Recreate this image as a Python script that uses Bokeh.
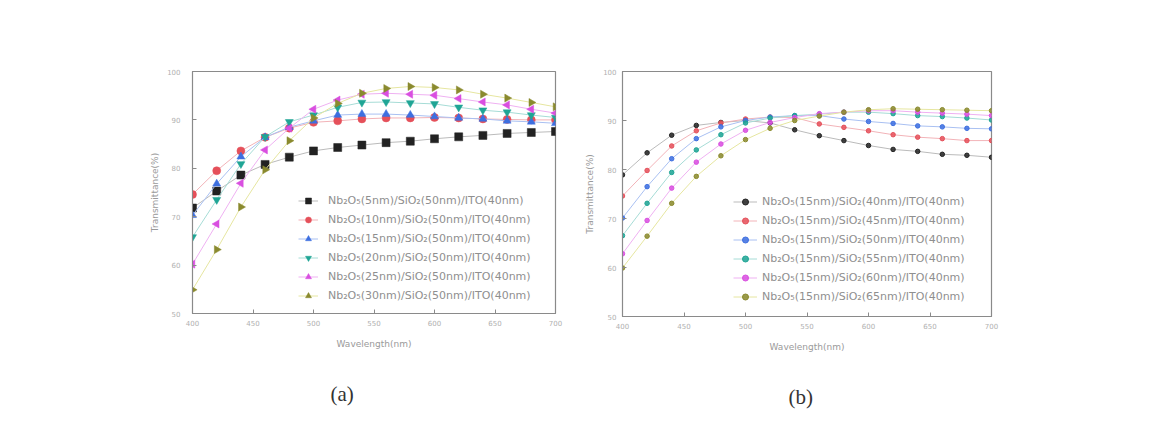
import math
from bokeh.plotting import figure
from bokeh.layouts import row
from bokeh.models import Legend, LegendItem, Title
from bokeh.embed import file_html
from bokeh.resources import INLINE

wavelength = [400, 420, 440, 460, 480, 500, 520, 540, 560, 580, 600, 620, 640, 660, 680, 700]

# panel (a): Nb2O5 thickness varied
a_labels = ["Nb\u2082O\u2085(5nm)/SiO\u2082(50nm)/ITO(40nm)",
            "Nb\u2082O\u2085(10nm)/SiO\u2082(50nm)/ITO(40nm)",
            "Nb\u2082O\u2085(15nm)/SiO\u2082(50nm)/ITO(40nm)",
            "Nb\u2082O\u2085(20nm)/SiO\u2082(50nm)/ITO(40nm)",
            "Nb\u2082O\u2085(25nm)/SiO\u2082(50nm)/ITO(40nm)",
            "Nb\u2082O\u2085(30nm)/SiO\u2082(50nm)/ITO(40nm)"]
a_5 = [71.8, 75.3, 78.6, 80.8, 82.3, 83.6, 84.3, 84.8, 85.3, 85.6, 86.1, 86.5, 86.8, 87.2, 87.4, 87.6]
a_10 = [74.6, 79.5, 83.6, 86.4, 88.3, 89.5, 89.8, 90.2, 90.4, 90.4, 90.5, 90.4, 90.2, 90.1, 90.0, 90.0]
a_15 = [70.3, 76.8, 82.4, 86.4, 88.5, 89.8, 91.0, 91.2, 91.2, 91.0, 90.7, 90.4, 90.2, 89.8, 89.6, 89.3]
a_20 = [65.8, 73.5, 80.9, 86.5, 89.6, 91.0, 92.6, 93.6, 93.7, 93.5, 93.3, 92.6, 92.0, 91.6, 91.0, 90.5]
a_25 = [60.2, 68.5, 76.9, 83.8, 88.3, 92.2, 94.1, 95.3, 95.5, 95.3, 95.1, 94.4, 93.7, 93.1, 92.2, 91.4]
a_30 = [54.9, 63.2, 72.0, 79.7, 85.7, 90.4, 93.4, 95.5, 96.5, 96.9, 96.7, 96.2, 95.3, 94.5, 93.6, 92.7]

# panel (b): SiO2 thickness varied
b_labels = ["Nb\u2082O\u2085(15nm)/SiO\u2082(40nm)/ITO(40nm)",
            "Nb\u2082O\u2085(15nm)/SiO\u2082(45nm)/ITO(40nm)",
            "Nb\u2082O\u2085(15nm)/SiO\u2082(50nm)/ITO(40nm)",
            "Nb\u2082O\u2085(15nm)/SiO\u2082(55nm)/ITO(40nm)",
            "Nb\u2082O\u2085(15nm)/SiO\u2082(60nm)/ITO(40nm)",
            "Nb\u2082O\u2085(15nm)/SiO\u2082(65nm)/ITO(40nm)"]
b_40 = [78.9, 83.4, 87.0, 89.0, 89.6, 90.0, 89.5, 88.1, 86.9, 85.9, 84.9, 84.1, 83.7, 83.1, 82.9, 82.5]
b_45 = [74.6, 79.8, 84.8, 87.9, 89.5, 90.3, 90.7, 90.6, 89.3, 88.6, 87.9, 87.1, 86.6, 86.3, 85.9, 85.9]
b_50 = [70.1, 76.5, 82.2, 86.3, 88.7, 90.0, 90.7, 91.0, 91.0, 90.3, 89.8, 89.4, 88.9, 88.7, 88.4, 88.3]
b_55 = [66.5, 73.1, 79.4, 84.0, 87.1, 89.5, 90.5, 91.0, 91.3, 91.7, 91.7, 91.4, 91.0, 90.8, 90.5, 90.1]
b_60 = [62.8, 69.6, 76.2, 81.5, 85.2, 88.0, 89.6, 90.6, 91.4, 91.7, 92.0, 92.0, 91.7, 91.5, 91.3, 91.0]
b_65 = [59.9, 66.4, 73.1, 78.6, 82.8, 86.1, 88.4, 90.0, 90.9, 91.7, 92.2, 92.4, 92.3, 92.2, 92.1, 92.0]

x_ticks = [400, 450, 500, 550, 600, 650, 700]
y_ticks = [50, 60, 70, 80, 90, 100]

colors = ["#222222", "#e5505a", "#3d6fe0", "#1fa595", "#d94fe0", "#8a8a2e"]
line_colors = ["#bbbbbb", "#f2b3b8", "#a9c0f2", "#a6dcd6", "#efb1f2", "#e6e6a0"]
a_markers = [("square", 0.0), ("circle", 0.0), ("triangle", 0.0),
             ("inverted_triangle", 0.0), ("triangle", math.pi / 2), ("triangle", -math.pi / 2)]

FONT = "DejaVu Sans"


def make_fig(left, frame_w, right, top, frame_h, bottom, ylabel_standoff, tick_standoff):
    p = figure(frame_width=frame_w, frame_height=frame_h,
               min_border_left=left, min_border_right=right,
               min_border_top=top, min_border_bottom=bottom,
               x_range=(400, 700), y_range=(50, 100),
               output_backend="svg", toolbar_location=None,
               background_fill_color="white", border_fill_color="white")
    p.grid.visible = False
    p.outline_line_color = "#8a8a8a"
    p.outline_line_width = 1.2
    for ax in (p.xaxis[0], p.yaxis[0]):
        ax.axis_line_color = "#8a8a8a"
        ax.major_tick_in = 4
        ax.major_tick_out = 0
        ax.minor_tick_in = 2
        ax.minor_tick_out = 0
        ax.major_tick_line_color = "#8a8a8a"
        ax.minor_tick_line_color = "#8a8a8a"
        ax.major_label_text_font = FONT
        ax.major_label_text_font_size = "7px"
        ax.major_label_text_color = "#b0b0b0"
        ax.axis_label_text_font = FONT
        ax.axis_label_text_font_size = "9px"
        ax.axis_label_text_font_style = "normal"
        ax.axis_label_text_color = "#9a9a9a"
    p.xaxis.ticker = x_ticks
    p.yaxis.ticker = y_ticks
    p.xaxis[0].ticker.num_minor_ticks = 2
    p.yaxis[0].ticker.num_minor_ticks = 2
    p.xaxis.axis_label = "Wavelength(nm)"
    p.yaxis.axis_label = "Transmittance(%)"
    p.xaxis.major_label_standoff = 6
    p.xaxis.axis_label_standoff = 10
    p.yaxis.major_label_standoff = tick_standoff
    p.yaxis.axis_label_standoff = ylabel_standoff
    return p


def caption(text, offset):
    return Title(text=text, align="left", offset=offset, standoff=56,
                 text_font="Liberation Serif", text_font_size="21px",
                 text_font_style="normal", text_color="#333333")


# ---------- panel (a)
pa = make_fig(192, 363, 20, 71, 242, 116, 4, 12)
a_series = [a_5, a_10, a_15, a_20, a_25, a_30]
items_a = []
for vals, col, lcol, (mk, ang), lab in zip(a_series, colors, line_colors, a_markers, a_labels):
    ln = pa.line(wavelength, vals, line_color=lcol, line_width=1)
    sc = pa.scatter(wavelength, vals, marker=mk, angle=ang, size=8,
                    fill_color=col, line_color=col, line_width=0.5)
    items_a.append(LegendItem(label=lab, renderers=[ln, sc]))
leg_a = Legend(items=items_a, location=(106, 10), border_line_alpha=0,
               background_fill_alpha=0, padding=0, margin=0, spacing=4,
               glyph_width=20, glyph_height=15, label_height=15,
               label_standoff=10, label_text_font=FONT,
               label_text_font_size="11px", label_text_color="#8f8f8f")
pa.add_layout(leg_a)
pa.add_layout(caption("(a)", 138), "below")

# ---------- panel (b)
pb = make_fig(47, 369, 160, 67, 245, 117, 5, 6)
b_series = [b_40, b_45, b_50, b_55, b_60, b_65]
items_b = []
for vals, col, lcol, lab in zip(b_series, colors, line_colors, b_labels):
    ln = pb.line(wavelength, vals, line_color=lcol, line_width=1)
    sc = pb.scatter(wavelength, vals, marker="circle", size=4.5,
                    fill_color=col, line_color=col, fill_alpha=0.85)
    items_b.append(LegendItem(label=lab, renderers=[ln, sc]))
leg_b = Legend(items=items_b, location=(111, 12), border_line_alpha=0,
               background_fill_alpha=0, padding=0, margin=0, spacing=4,
               glyph_width=24, glyph_height=15, label_height=15,
               label_standoff=5, label_text_font=FONT,
               label_text_font_size="11px", label_text_color="#8f8f8f")
pb.add_layout(leg_b)
pb.add_layout(caption("(b)", 166), "below")

layout = row(pa, pb, spacing=0)
open("out.html", "w").write(file_html(layout, INLINE))
